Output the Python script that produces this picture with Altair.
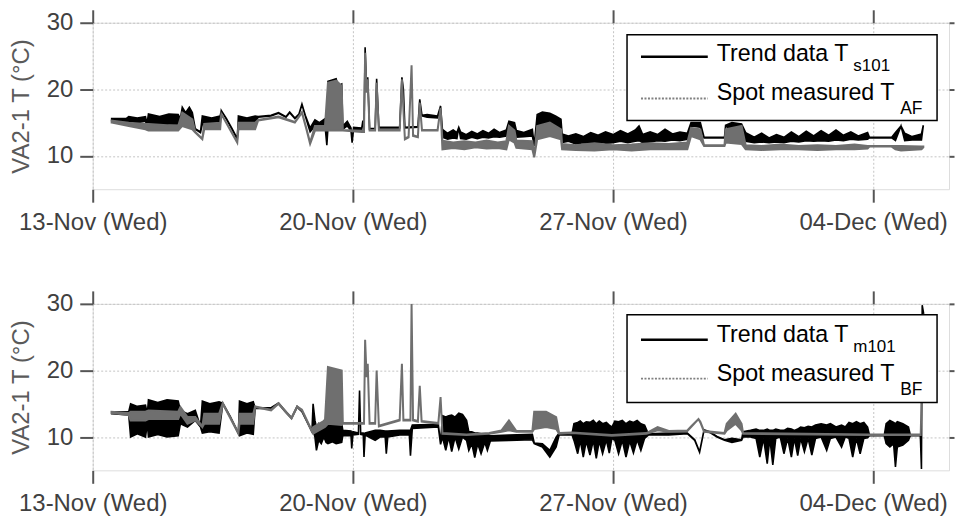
import altair as alt
import pandas as pd

FONT = "Liberation Sans"
BASE = pd.Timestamp("2019-11-13")

# (day offset from 13-Nov 00:00, low, high) -- band of the rapidly oscillating trace
TOP_TREND = [
    (0.51, 15.3, 15.6), (0.90, 15.2, 15.6), (0.97, 15.2, 15.9), (1.20, 15.0, 15.7), (1.42, 15.2, 15.9),
    (1.46, 14.6, 14.8), (1.50, 14.8, 16.3), (1.80, 14.6, 15.9), (2.05, 14.8, 16.3), (2.30, 14.8, 16.2),
    (2.36, 15.5, 15.6), (2.41, 15.8, 17.3), (2.50, 15.5, 16.5), (2.60, 15.8, 17.3), (2.68, 15.0, 16.5),
    (2.76, 14.0, 14.1), (2.90, 13.5, 13.6), (2.95, 14.8, 16.0), (3.20, 14.6, 15.7), (3.43, 14.8, 16.0),
    (3.46, 16.8, 16.8), (3.60, 15.5, 15.6), (3.75, 14.0, 14.1), (3.89, 12.5, 12.6), (3.92, 14.8, 16.0),
    (4.15, 14.6, 15.7), (4.37, 14.8, 16.0), (4.45, 15.8, 15.9), (4.80, 16.0, 16.1), (5.00, 16.4, 16.5),
    (5.20, 15.8, 15.9), (5.30, 16.5, 16.6), (5.44, 15.6, 15.7), (5.55, 16.2, 16.3), (5.63, 17.7, 17.8),
    (5.72, 16.0, 16.1), (5.85, 13.6, 14.2), (5.98, 14.5, 15.4), (6.10, 14.2, 15.0), (6.25, 14.6, 15.6),
    (6.30, 11.6, 11.7), (6.33, 14.2, 21.2), (6.55, 14.2, 21.6), (6.60, 14.0, 20.5), (6.70, 14.0, 20.8),
    (6.73, 14.0, 14.5), (6.85, 14.5, 15.2), (6.95, 13.8, 14.2), (6.98, 12.0, 12.1), (7.02, 14.0, 14.3),
    (7.24, 14.0, 14.2), (7.27, 15.3, 15.3), (7.30, 14.0, 14.1), (7.33, 26.3, 26.3), (7.37, 20.0, 20.0),
    (7.40, 21.8, 21.8), (7.45, 14.0, 14.1), (7.60, 14.0, 14.1), (7.64, 21.6, 21.6), (7.70, 14.2, 14.3),
    (8.26, 14.2, 14.3), (8.32, 21.8, 21.8), (8.36, 20.0, 20.0), (8.40, 14.2, 14.3), (8.75, 14.3, 14.4),
    (8.80, 18.5, 18.5), (8.86, 16.0, 16.1), (9.00, 15.8, 16.2), (9.28, 15.7, 16.0), (9.36, 17.5, 17.5),
    (9.41, 12.8, 14.0), (9.55, 12.5, 13.4), (9.70, 12.7, 13.9), (9.80, 12.6, 13.5), (9.85, 14.3, 14.3),
    (9.90, 12.6, 13.6), (10.05, 12.5, 13.2), (10.20, 12.8, 13.7), (10.35, 12.6, 13.3), (10.50, 12.8, 13.8),
    (10.65, 12.7, 13.4), (10.80, 12.9, 14.0), (10.95, 12.8, 13.5), (11.13, 13.0, 13.9), (11.20, 13.5, 15.2),
    (11.35, 13.3, 15.0), (11.40, 12.8, 13.8), (11.60, 12.9, 13.5), (11.83, 13.0, 14.0), (11.88, 11.5, 11.6),
    (11.96, 14.5, 16.2), (12.10, 14.6, 16.6), (12.30, 14.8, 16.4), (12.45, 14.4, 16.0), (12.60, 14.2, 15.5),
    (12.63, 12.0, 13.3), (12.80, 12.2, 13.0), (13.00, 11.8, 13.3), (13.20, 12.0, 12.9), (13.40, 11.9, 13.5),
    (13.60, 12.1, 13.1), (13.80, 11.9, 13.6), (14.00, 12.0, 13.2), (14.20, 12.2, 13.8), (14.40, 12.0, 13.3),
    (14.60, 12.2, 13.9), (14.70, 12.3, 14.5), (14.80, 12.0, 13.2), (15.00, 12.1, 13.6), (15.20, 12.3, 13.2),
    (15.40, 12.2, 14.0), (15.60, 12.4, 13.3), (15.80, 12.3, 13.6), (16.00, 12.5, 13.4), (16.10, 14.5, 15.0),
    (16.35, 14.3, 15.0), (16.45, 12.7, 12.8), (17.00, 12.7, 12.8), (17.03, 14.5, 14.6), (17.20, 13.8, 15.0),
    (17.46, 13.5, 14.8), (17.57, 12.2, 13.5), (17.80, 12.0, 12.8), (18.00, 12.1, 13.4), (18.20, 12.0, 12.7),
    (18.40, 12.1, 13.2), (18.60, 12.0, 12.8), (18.80, 12.2, 13.6), (19.00, 12.1, 12.9), (19.20, 12.3, 13.7),
    (19.40, 12.2, 13.0), (19.60, 12.3, 13.8), (19.80, 12.2, 13.1), (20.00, 12.4, 13.9), (20.20, 12.3, 13.1),
    (20.40, 12.5, 13.6), (20.60, 12.4, 13.0), (20.85, 12.5, 13.5), (20.90, 12.7, 12.8), (21.50, 12.7, 12.8),
    (21.60, 12.3, 13.5), (21.75, 14.5, 14.5), (21.85, 12.3, 13.4), (22.05, 12.4, 12.9), (22.30, 12.4, 13.3),
    (22.35, 14.6, 14.6),
]

TOP_SPOT = [
    (0.51, 15.0, 15.3), (0.97, 14.5, 15.0), (1.42, 14.0, 14.8), (1.50, 13.8, 14.8), (2.30, 13.8, 14.5),
    (2.41, 14.5, 16.5), (2.68, 14.0, 15.5), (2.76, 13.5, 13.6), (2.95, 12.5, 12.6), (3.00, 14.0, 14.8),
    (3.43, 14.0, 15.0), (3.46, 16.3, 16.3), (3.89, 12.0, 12.1), (3.92, 14.0, 15.0), (4.37, 14.0, 15.0),
    (4.45, 15.3, 15.4), (5.00, 15.8, 15.9), (5.44, 15.0, 15.1), (5.63, 16.5, 16.6), (5.75, 14.0, 14.1),
    (5.85, 11.8, 12.0), (5.98, 13.8, 14.5), (6.25, 13.8, 14.5), (6.33, 13.8, 21.0), (6.55, 13.8, 21.3),
    (6.70, 13.8, 20.5), (6.73, 13.8, 13.9), (7.24, 13.6, 13.8), (7.30, 13.6, 13.7), (7.33, 25.5, 25.5),
    (7.37, 19.5, 19.5), (7.40, 21.5, 21.5), (7.45, 13.8, 13.9), (7.60, 13.8, 13.9), (7.64, 21.0, 21.0),
    (7.70, 13.8, 13.9), (8.26, 13.8, 13.9), (8.32, 21.5, 21.5), (8.40, 12.5, 12.6), (8.50, 12.8, 12.9),
    (8.58, 23.6, 23.6), (8.62, 13.0, 13.1), (8.75, 12.8, 12.9), (8.80, 18.0, 18.0), (8.86, 13.8, 13.9),
    (9.28, 13.8, 13.9), (9.36, 17.2, 17.2), (9.41, 11.0, 12.3), (9.70, 11.2, 12.0), (10.00, 11.0, 12.2),
    (10.30, 11.3, 12.0), (10.60, 11.1, 12.3), (10.90, 11.2, 12.0), (11.13, 11.0, 12.2), (11.20, 12.5, 14.5),
    (11.35, 12.0, 13.8), (11.40, 11.2, 12.3), (11.83, 11.0, 12.2), (11.88, 9.8, 9.9), (11.96, 12.5, 14.5),
    (12.30, 13.0, 15.0), (12.60, 12.5, 14.0), (12.63, 11.0, 11.8), (13.00, 10.9, 11.6), (13.50, 10.8, 11.9),
    (14.00, 11.0, 11.6), (14.50, 10.8, 11.7), (15.00, 11.0, 11.9), (15.50, 11.0, 11.8), (16.00, 11.0, 12.0),
    (16.10, 13.0, 14.2), (16.35, 12.5, 14.0), (16.45, 11.5, 11.6), (17.00, 11.5, 11.6), (17.03, 12.0, 14.0),
    (17.46, 11.8, 14.5), (17.57, 11.0, 11.6), (18.00, 10.9, 11.5), (18.50, 11.0, 11.7), (19.00, 11.0, 11.5),
    (19.50, 10.9, 11.6), (20.00, 11.0, 11.5), (20.50, 11.0, 11.7), (20.85, 11.1, 11.5), (20.90, 11.4, 11.5),
    (21.50, 11.4, 11.5), (21.60, 11.0, 11.5), (21.75, 10.8, 11.5), (22.30, 11.0, 11.4), (22.35, 11.3, 11.4),
]

BOTTOM_TREND = [
    (0.51, 13.5, 13.8), (0.97, 13.3, 13.8), (1.02, 10.0, 15.0), (1.20, 10.5, 14.6), (1.42, 10.0, 14.8),
    (1.47, 12.0, 13.5), (1.50, 10.0, 15.6), (1.75, 10.4, 15.2), (2.00, 10.0, 15.6), (2.30, 10.2, 15.4),
    (2.36, 12.0, 14.0), (2.55, 11.5, 13.5), (2.76, 12.5, 14.0), (2.90, 11.5, 11.6), (2.95, 10.6, 15.4),
    (3.15, 10.8, 15.0), (3.40, 10.6, 15.3), (3.50, 15.0, 15.1), (3.70, 13.0, 13.1), (3.92, 10.5, 10.6),
    (3.95, 10.2, 15.4), (4.15, 10.6, 15.0), (4.32, 10.4, 15.3), (4.37, 14.3, 14.4), (4.80, 14.3, 14.4),
    (5.00, 15.0, 15.1), (5.20, 13.7, 13.8), (5.35, 12.8, 12.9), (5.50, 14.5, 14.6), (5.63, 13.8, 13.9),
    (5.90, 10.8, 10.9), (5.93, 11.0, 15.0), (5.98, 10.0, 12.5), (6.02, 8.0, 11.5), (6.08, 9.5, 12.0),
    (6.15, 9.0, 11.0), (6.22, 10.0, 12.3), (6.28, 9.2, 11.5), (6.33, 9.0, 12.5), (6.45, 9.3, 12.0),
    (6.55, 9.0, 12.7), (6.70, 9.2, 12.0), (6.73, 10.2, 11.0), (6.95, 10.2, 10.9), (6.97, 8.3, 10.5),
    (7.00, 10.3, 10.8), (7.15, 10.4, 10.6), (7.18, 17.0, 17.0), (7.21, 10.4, 10.6), (7.28, 10.3, 10.6),
    (7.30, 7.0, 10.5), (7.33, 10.3, 10.6), (7.60, 9.5, 11.0), (7.73, 10.0, 11.0), (7.87, 10.0, 10.9),
    (7.90, 7.5, 10.9), (7.94, 10.0, 10.9), (8.26, 10.3, 11.0), (8.52, 10.3, 11.0), (8.55, 7.2, 11.0),
    (8.60, 11.3, 11.8), (9.30, 11.5, 11.9), (9.36, 8.9, 9.0), (9.41, 10.0, 13.2), (9.50, 8.0, 13.0),
    (9.58, 10.0, 13.2), (9.66, 7.8, 13.3), (9.75, 10.0, 13.0), (9.85, 8.2, 13.6), (9.95, 10.0, 13.4),
    (10.06, 9.5, 12.5), (10.12, 8.0, 10.8), (10.20, 9.0, 10.8), (10.28, 6.9, 10.6), (10.36, 9.0, 10.6),
    (10.45, 7.5, 10.5), (10.55, 9.2, 10.4), (10.62, 8.0, 10.4), (10.70, 9.4, 10.2), (11.20, 9.5, 10.3),
    (11.83, 9.6, 10.4), (11.88, 9.0, 9.1), (12.10, 8.5, 9.0), (12.30, 7.0, 8.0), (12.47, 8.5, 10.0),
    (12.55, 10.3, 10.6), (12.90, 10.3, 10.6), (12.95, 9.5, 12.0), (13.05, 7.5, 12.2), (13.12, 9.5, 12.4),
    (13.20, 7.0, 12.0), (13.28, 9.4, 12.3), (13.38, 7.3, 12.2), (13.47, 9.5, 12.5), (13.55, 6.8, 12.0),
    (13.63, 9.4, 12.4), (13.72, 7.5, 12.0), (13.82, 9.6, 12.2), (13.90, 7.6, 11.8), (13.97, 9.8, 11.5),
    (14.05, 9.5, 12.4), (14.15, 7.5, 12.3), (14.25, 9.5, 12.5), (14.35, 7.0, 12.0), (14.45, 9.4, 12.4),
    (14.55, 7.6, 12.2), (14.65, 9.6, 12.5), (14.75, 8.0, 12.0), (14.85, 9.8, 11.8), (14.95, 10.3, 10.5),
    (15.50, 10.3, 10.6), (16.00, 10.5, 10.6), (16.20, 9.5, 9.6), (16.33, 7.7, 7.8), (16.45, 11.0, 11.1),
    (16.60, 10.7, 10.8), (16.80, 10.0, 10.1), (17.00, 9.5, 9.6), (17.20, 9.2, 9.8), (17.46, 9.5, 9.6),
    (17.50, 10.0, 10.8), (17.70, 10.0, 11.0), (17.85, 9.8, 11.2), (17.95, 7.0, 11.0), (18.05, 9.8, 11.0),
    (18.15, 6.0, 11.2), (18.22, 9.8, 11.0), (18.30, 5.8, 11.0), (18.38, 9.8, 11.2), (18.50, 10.0, 11.0),
    (18.60, 7.5, 11.0), (18.70, 9.8, 11.3), (18.80, 7.0, 11.2), (18.88, 9.8, 11.0), (18.97, 7.2, 11.2),
    (19.05, 9.8, 11.5), (19.15, 7.8, 11.4), (19.25, 9.8, 11.6), (19.35, 7.3, 11.5), (19.45, 9.8, 11.8),
    (19.60, 10.0, 12.0), (19.75, 8.0, 11.8), (19.85, 9.8, 12.0), (20.00, 10.0, 11.5), (20.15, 8.5, 11.8),
    (20.25, 10.0, 11.5), (20.35, 9.8, 12.2), (20.45, 7.0, 12.0), (20.55, 9.8, 12.3), (20.65, 7.5, 12.0),
    (20.75, 9.8, 12.2), (20.85, 9.9, 11.5), (20.90, 10.2, 10.3), (21.30, 10.2, 10.3), (21.35, 9.0, 12.0),
    (21.45, 8.5, 12.5), (21.55, 9.0, 12.2), (21.60, 5.5, 12.0), (21.65, 8.5, 12.3), (21.80, 8.8, 12.0),
    (21.95, 9.5, 11.5), (22.00, 10.2, 10.3), (22.27, 10.2, 10.3), (22.30, 5.2, 5.2), (22.32, 29.8, 29.8),
    (22.36, 28.5, 28.5),
]

BOTTOM_SPOT = [
    (0.51, 13.6, 13.8), (0.97, 13.3, 13.6), (1.02, 12.5, 13.8), (1.42, 12.5, 13.8), (1.50, 12.7, 14.0),
    (2.30, 12.7, 13.8), (2.36, 13.5, 14.5), (2.55, 12.0, 13.0), (2.76, 12.5, 13.0), (2.95, 11.5, 11.6),
    (3.00, 12.0, 13.5), (3.40, 12.0, 13.5), (3.50, 15.0, 15.1), (3.92, 10.5, 10.6), (3.95, 12.0, 13.5),
    (4.32, 12.0, 13.5), (4.37, 14.5, 14.6), (4.80, 14.0, 14.1), (5.00, 15.0, 15.1), (5.20, 13.7, 13.8),
    (5.35, 12.8, 12.9), (5.50, 14.5, 14.6), (5.63, 14.0, 14.1), (5.90, 10.8, 10.9), (5.93, 10.5, 11.5),
    (6.25, 11.5, 12.5), (6.33, 12.0, 20.5), (6.70, 11.8, 20.0), (6.73, 12.0, 12.1), (7.30, 12.0, 12.1),
    (7.33, 24.6, 24.6), (7.37, 19.0, 19.0), (7.40, 21.0, 21.0), (7.45, 12.0, 12.1), (7.60, 12.0, 12.1),
    (7.64, 20.0, 20.0), (7.70, 11.6, 11.7), (8.26, 12.5, 12.6), (8.32, 21.0, 21.0), (8.36, 12.5, 12.6),
    (8.55, 12.5, 12.6), (8.58, 30.0, 30.0), (8.62, 12.5, 12.6), (8.75, 12.3, 12.4), (8.80, 17.7, 17.7),
    (8.85, 12.3, 12.4), (9.30, 12.0, 12.1), (9.36, 16.0, 16.0), (9.41, 10.5, 10.6), (10.06, 10.3, 10.4),
    (10.67, 10.5, 10.6), (11.00, 10.8, 11.0), (11.20, 11.0, 12.5), (11.40, 10.8, 10.9), (11.83, 10.8, 10.9),
    (11.88, 11.2, 13.8), (12.20, 11.5, 13.8), (12.47, 11.2, 13.0), (12.55, 10.5, 10.6), (12.90, 10.6, 10.7),
    (13.97, 10.2, 10.3), (14.90, 10.5, 10.6), (15.20, 11.0, 11.5), (15.50, 10.8, 10.9), (16.00, 10.9, 11.0),
    (16.10, 11.5, 11.6), (16.30, 12.7, 12.7), (16.35, 12.2, 12.3), (16.45, 10.8, 10.9), (17.00, 10.5, 10.6),
    (17.06, 11.0, 12.0), (17.30, 12.0, 13.5), (17.46, 11.0, 12.0), (17.50, 10.5, 10.6), (20.90, 10.3, 10.4),
    (22.28, 10.3, 10.4), (22.32, 20.0, 20.0),
]

TICK_DATES = [(11, 13), (11, 20), (11, 27), (12, 4)]
Y_TICKS = [10, 20, 30]
Y_DOMAIN = [5, 30]
Y_TITLE = "VA2-1 T (°C)"
TREND_LABEL = "Trend data T"
SPOT_LABEL = "Spot measured T"

W, H = 859, 167
AXIS_GREY = "#555555"
SPOT_GREY = "#6f6f6f"


def frame(rows):
    return pd.DataFrame({
        "t": [(BASE + pd.Timedelta(days=d)).strftime("%Y-%m-%dT%H:%M:%S") for d, _, _ in rows],
        "lo": [lo for _, lo, _ in rows],
        "hi": [hi for _, _, hi in rows],
    })


tick_values = [alt.DateTime(year=2019, month=m, date=d) for m, d in TICK_DATES]
x_scale = alt.Scale(domain=[alt.DateTime(year=2019, month=11, date=13),
                            alt.DateTime(year=2019, month=12, date=6, hours=1)])
y_scale = alt.Scale(domain=Y_DOMAIN, nice=False, zero=False)

x_bottom = alt.Axis(values=tick_values, format="%d-%b (%a)", title=None, domain=False,
                    labelFont=FONT, labelFontSize=24, labelColor="#404040", labelPadding=8,
                    labelFlush=False, labelOverlap=False, tickSize=13, tickWidth=2,
                    tickColor=AXIS_GREY, grid=True, gridColor="#c4c4c4", gridDash=[2, 2], gridWidth=1)
x_top = alt.Axis(values=tick_values, orient="top", labels=False, title=None, domain=False,
                 tickSize=13, tickWidth=2, tickColor=AXIS_GREY, grid=False)
y_left = alt.Axis(values=Y_TICKS, title=Y_TITLE, domain=False, labelFont=FONT, labelFontSize=24,
                  labelColor="#404040", labelPadding=7, tickSize=13, tickWidth=2, tickColor=AXIS_GREY,
                  grid=True, gridColor="#c4c4c4", gridDash=[2, 2], gridWidth=1,
                  titleFont=FONT, titleFontSize=24, titleFontWeight="normal", titleColor="#5a5a5a",
                  titlePadding=13)
y_right = alt.Axis(values=Y_TICKS, orient="right", labels=False, title=None, domain=False,
                   tickSize=5, tickWidth=2, tickColor=AXIS_GREY, grid=False)


def panel(trend_rows, spot_rows, sub1, sub2, ly):
    trend = alt.Chart(frame(trend_rows)).mark_area(
        color="black", stroke="black", strokeWidth=1.6, clip=True
    ).encode(
        x=alt.X("t:T", scale=x_scale, axis=x_bottom),
        y=alt.Y("lo:Q", scale=y_scale, axis=y_left),
        y2="hi:Q",
    )
    spot = alt.Chart(frame(spot_rows)).mark_area(
        color=SPOT_GREY, stroke=SPOT_GREY, strokeWidth=2, clip=True
    ).encode(
        x=alt.X("t:T", scale=x_scale, axis=x_top),
        y=alt.Y("lo:Q", scale=y_scale, axis=y_right),
        y2="hi:Q",
    )
    one = alt.Chart(pd.DataFrame({"k": [0]}))
    box = one.mark_rect(fill="white", stroke="black", strokeWidth=1.5).encode(
        x=alt.value(536), x2=alt.value(847), y=alt.value(ly[0]), y2=alt.value(ly[1]))
    l1 = one.mark_rule(color="black", strokeWidth=2.5).encode(
        x=alt.value(550), x2=alt.value(617), y=alt.value(ly[2]))
    l2 = one.mark_rule(color="#808080", strokeWidth=2, strokeDash=[2, 1.5]).encode(
        x=alt.value(550), x2=alt.value(617), y=alt.value(ly[3]))
    txt = dict(align="left", baseline="alphabetic", font=FONT, color="black")
    t1 = one.mark_text(text=TREND_LABEL, fontSize=23.3, **txt).encode(x=alt.value(626), y=alt.value(ly[4]))
    s1 = one.mark_text(text=sub1, fontSize=17, **txt).encode(x=alt.value(763), y=alt.value(ly[4] + 10))
    t2 = one.mark_text(text=SPOT_LABEL, fontSize=23.3, **txt).encode(x=alt.value(626), y=alt.value(ly[5]))
    s2 = one.mark_text(text=sub2, fontSize=17.5, **txt).encode(x=alt.value(810), y=alt.value(ly[5] + 14))
    return alt.layer(trend, spot, box, l1, l2, t1, s1, t2, s2).resolve_axis(
        x="independent", y="independent").properties(width=W, height=H)


top = panel(TOP_TREND, TOP_SPOT, "s101", "AF", [12, 98, 34, 76, 38.5, 77.5])
bottom = panel(BOTTOM_TREND, BOTTOM_SPOT, "m101", "BF", [11, 99, 36, 75, 38.5, 77.5])

chart = alt.vconcat(top, bottom, spacing=54).properties(
    padding={"left": 8, "top": 7, "right": 0, "bottom": 0}
).configure_view(stroke=AXIS_GREY, strokeWidth=2).configure(font=FONT)

chart.save("out.html", embed_options={"renderer": "svg", "actions": False})
